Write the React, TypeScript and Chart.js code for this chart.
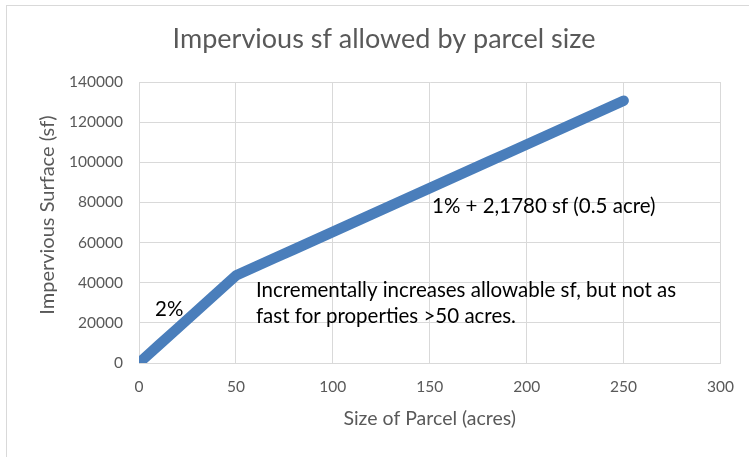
import React, { useEffect, useRef } from "react";
import { Chart, registerables } from "chart.js";

Chart.register(...registerables);

const parcelAcres = [1, 10, 20, 30, 40, 50, 60, 70, 80, 90, 100, 110, 120, 130, 140, 150, 160, 170, 180, 190, 200, 210, 220, 230, 240, 250];
const imperviousSf = [871, 8712, 17424, 26136, 34848, 43560, 47916, 52272, 56628, 60984, 65340, 69696, 74052, 78408, 82764, 87120, 91476, 95832, 100188, 104544, 108900, 113256, 117612, 121968, 126324, 130680];
const chartTitle = "Impervious sf allowed by parcel size";
const xTitle = "Size of Parcel (acres)";
const yTitle = "Impervious Surface (sf)";
const noteLow = "2%";
const noteMid = ["Incrementally increases allowable sf, but not as", "fast for properties >50 acres."];
const noteHigh = "1% + 2,1780 sf (0.5 acre)";

const FONT = "Lato, 'Open Sans', sans-serif";
const GRAY = "#595959";

export default function App() {
  const ref = useRef<HTMLCanvasElement>(null);
  useEffect(() => {
    const canvas = ref.current!;
    const textPlugin = {
      id: "texts",
      afterDraw(chart: any) {
        const ctx = chart.ctx;
        const a = chart.chartArea;
        ctx.save();
        ctx.strokeStyle = "#d9d9d9";
        ctx.lineWidth = 1;
        ctx.strokeRect(6.5, 5.5, 760, 470);
        ctx.fillStyle = GRAY;
        ctx.textAlign = "center";
        ctx.textBaseline = "alphabetic";
        ctx.font = `27px ${FONT}`;
        ctx.fillText(chartTitle, 384, 48);
        ctx.font = `19.5px ${FONT}`;
        ctx.fillText(xTitle, (a.left + a.right) / 2, 425);
        ctx.save();
        ctx.translate(54, 215);
        ctx.rotate(-Math.PI / 2);
        ctx.font = `20px ${FONT}`;
        ctx.fillText(yTitle, 0, 0);
        ctx.restore();
        ctx.fillStyle = "#000000";
        ctx.textAlign = "left";
        ctx.font = `20.5px ${FONT}`;
        ctx.fillText(noteLow, 155, 316);
        ctx.fillText(noteMid[0], 256, 297);
        ctx.fillText(noteMid[1], 256, 323);
        ctx.fillText(noteHigh, 432, 213);
        ctx.restore();
      },
    };
    const chart = new Chart(canvas, {
      type: "scatter",
      data: {
        datasets: [
          {
            data: parcelAcres.map((x, i) => ({ x, y: imperviousSf[i] })),
            showLine: true,
            borderColor: "#4a7ebb",
            backgroundColor: "#4a7ebb",
            borderWidth: 10.5,
            borderCapStyle: "round",
            borderJoinStyle: "round",
            pointRadius: 0,
          } as any,
        ],
      },
      options: {
        animation: false,
        responsive: false,
        layout: { padding: { left: 0, top: 82, right: 26, bottom: 0 } },
        plugins: { legend: { display: false }, tooltip: { enabled: false }, title: { display: false } },
        scales: {
          x: {
            type: "linear",
            min: 0,
            max: 300,
            ticks: { stepSize: 50, color: GRAY, font: { family: FONT, size: 15.5 }, padding: 15, maxRotation: 0, callback: (v: any) => String(v) },
            grid: { color: "#d9d9d9", drawTicks: false },
            border: { color: "#d9d9d9" },
            afterFit(s: any) { s.height = 94; },
          },
          y: {
            type: "linear",
            min: 0,
            max: 140000,
            ticks: { stepSize: 20000, color: GRAY, font: { family: FONT, size: 15.5 }, padding: 16, callback: (v: any) => String(v) },
            grid: { color: "#d9d9d9", drawTicks: false },
            border: { color: "#d9d9d9" },
            afterFit(s: any) { s.width = 139; },
          },
        },
      },
      plugins: [textPlugin],
    } as any);
    return () => chart.destroy();
  }, []);
  return (
    <div style={{ position: "fixed", left: 0, top: 0, width: 749, height: 457, background: "#fff" }}>
      <canvas ref={ref} width={749} height={457} style={{ display: "block" }} />
    </div>
  );
}
